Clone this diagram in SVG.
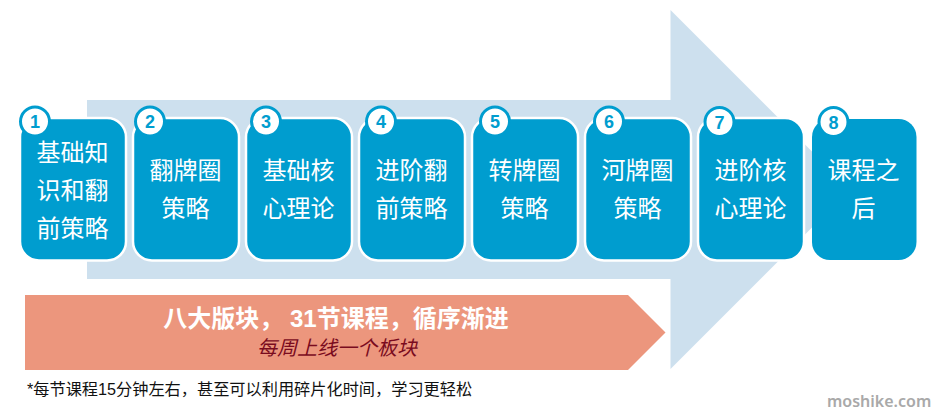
<svg xmlns="http://www.w3.org/2000/svg" width="941" height="418" viewBox="0 0 941 418">
<style>
.card{fill:#009dcf;stroke:#fff;stroke-width:2.5}
.ring{fill:#fff;stroke:#009dcf;stroke-width:3}
.num{font-family:"Liberation Sans",Arial,sans-serif;font-size:18px;font-weight:bold;fill:#009dcf;text-anchor:middle}
.lab{font-family:"Noto Sans CJK SC",sans-serif;font-size:24px;fill:#fff;text-anchor:middle}
</style>
<rect width="941" height="418" fill="#fff"/>
<polygon id="big-arrow" points="87,100 670.5,100 670.5,10 850,189.5 670.5,369 670.5,279 87,279" fill="#cde0ee"/>
<g id="node1"><rect class="card" x="20" y="118" width="106" height="142.500" rx="19"/><circle class="ring" cx="35" cy="121.500" r="14.500"/><text class="num" x="35" y="128">1</text><text class="lab" x="72.500" y="160.500">基础知</text><text class="lab" x="72.500" y="198.500">识和翻</text><text class="lab" x="72.500" y="236.500">前策略</text></g>
<g id="node2"><rect class="card" x="133" y="118" width="106" height="142.500" rx="19"/><circle class="ring" cx="150" cy="121.500" r="14.500"/><text class="num" x="150" y="128">2</text><text class="lab" x="185.500" y="178.500">翻牌圈</text><text class="lab" x="185.500" y="216.500">策略</text></g>
<g id="node3"><rect class="card" x="246" y="118" width="106" height="142.500" rx="19"/><circle class="ring" cx="266" cy="121.500" r="14.500"/><text class="num" x="266" y="128">3</text><text class="lab" x="298.500" y="178.500">基础核</text><text class="lab" x="298.500" y="216.500">心理论</text></g>
<g id="node4"><rect class="card" x="359" y="118" width="106" height="142.500" rx="19"/><circle class="ring" cx="381" cy="121.500" r="14.500"/><text class="num" x="381" y="128">4</text><text class="lab" x="411.500" y="178.500">进阶翻</text><text class="lab" x="411.500" y="216.500">前策略</text></g>
<g id="node5"><rect class="card" x="472" y="118" width="106" height="142.500" rx="19"/><circle class="ring" cx="495" cy="121.500" r="14.500"/><text class="num" x="495" y="128">5</text><text class="lab" x="524.500" y="178.500">转牌圈</text><text class="lab" x="524.500" y="216.500">策略</text></g>
<g id="node6"><rect class="card" x="585" y="118" width="106" height="142.500" rx="19"/><circle class="ring" cx="609" cy="121.500" r="14.500"/><text class="num" x="609" y="128">6</text><text class="lab" x="637.500" y="178.500">河牌圈</text><text class="lab" x="637.500" y="216.500">策略</text></g>
<g id="node7"><rect class="card" x="698" y="118" width="106" height="142.500" rx="19"/><circle class="ring" cx="719.500" cy="122" r="14.500"/><text class="num" x="719.500" y="128.500">7</text><text class="lab" x="750.500" y="178.500">进阶核</text><text class="lab" x="750.500" y="216.500">心理论</text></g>
<g id="node8"><rect class="card" x="812" y="119" width="104.500" height="141" rx="18" style="stroke:none"/><circle class="ring" cx="833.500" cy="122" r="14.500"/><text class="num" x="833.500" y="128.500">8</text><text class="lab" x="863.500" y="178.500">课程之</text><text class="lab" x="863.500" y="216.500">后</text></g>
<g id="banner"><polygon points="25,295 628,295 665.500,332.500 628,370 25,370" fill="#ec967d"/>
<text x="336" y="327" font-family="'Liberation Sans','Noto Sans CJK SC',sans-serif" font-size="24" font-weight="bold" fill="#fff" text-anchor="middle" xml:space="preserve">八大版块， 31节课程，循序渐进</text>
<text x="337" y="355" font-family="'Noto Sans CJK SC',sans-serif" font-size="20" font-style="italic" fill="#7a0b1e" text-anchor="middle">每周上线一个板块</text></g>
<text id="note" x="27" y="395" font-family="'Liberation Sans','Noto Sans CJK SC',sans-serif" font-size="16.200" fill="#111">*每节课程15分钟左右，甚至可以利用碎片化时间，学习更轻松</text>
<text id="watermark" x="827" y="407" font-family="'Noto Sans',sans-serif" font-size="16" font-weight="600" fill="#a9a9a9">moshike.com</text>
<g id="connectors"/>
</svg>
